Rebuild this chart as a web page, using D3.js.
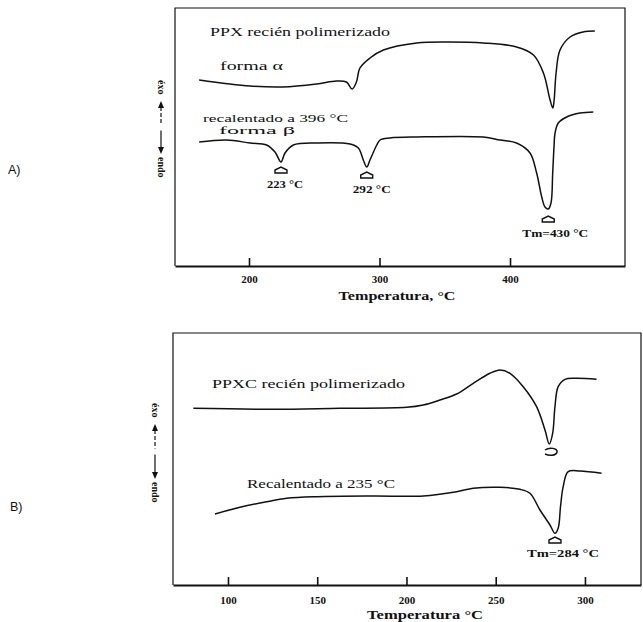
<!DOCTYPE html>
<html><head><meta charset="utf-8">
<script src="https://cdn.jsdelivr.net/npm/d3@7"></script>
<style>
html,body{margin:0;padding:0;background:#fff;}
svg{display:block;}
text{fill:#111;}
</style></head>
<body>
<script>
// ---------- DATA (temperature °C, DSC signal in arbitrary units; up = exo) ----------
const topTicks = [200, 300, 400];
const botTicks = [100, 150, 200, 250, 300];

const ppxAlphaT = [161.8,200.8,226,251.7,267,274.7,279,282.3,285,292.7,303,328.5,354,379.6,405,418,425.6,430.7,432.8,433.8,435.3,438.3,446,456,465];
const ppxAlphaV = [186,180,179,182,185,184,177,184,198,208,216,223,224,223,219,211,193,166,158,166,193,216,229,234,235];

const ppxBetaT = [161.8,182.8,200.8,213.5,219.9,224.5,227.6,234,251.9,277.4,283.8,287.6,290.2,292.7,297.9,300.4,308,328.5,379.6,392.3,405,415.3,420.4,424.3,426.8,429.3,431.4,432.7,433.7,434.5,437,443.4,453.6,463.8];
const ppxBetaV = [124,126,123,121,114,104,113,121,123,122,118,106,99,106,121,126,128,129,129,126,123,113,93,69,59,57,63,93,119,133,143,149,153,154];

const ppxcT = [80.6,125.4,162.7,200.1,209.4,218.8,228.1,237.4,246.8,252.4,258,265.4,272.9,277.6,280,281.9,283.2,285,288.8,295.3,306.5];
const ppxcV = [176.7,175.7,176.7,177.7,180,185,191,201.7,211.7,215,211.7,198.3,178.3,155,141,151.7,178.3,198.3,205.7,206.7,205.7];

const reheatT = [92.7,106.7,121.7,132.9,149.7,181.4,209.4,228.1,237.4,252.4,263.6,269.2,274.8,280.4,283.2,285,286.3,287.8,290.6,297.2,309.3];
const reheatV = [71,77.7,83.3,86.7,88.3,89,89,93.3,96.7,97.7,95.7,91.7,75,60,51.7,56.7,78.3,98.3,113.3,114,111.7];

// peak markers: [temperature, signal, label]
const topPeaks = [[224.5, 96, "223 °C"], [290.2, 91, "292 °C"], [429.3, 47, "Tm=430 °C"]];
const botPeaks = [[283.2, 45, "Tm=284 °C"]];
const botOpenMark = [[281, 133]];

const W = 643, H = 622;
const svg = d3.select("body").append("svg").attr("width", W).attr("height", H);
svg.append("rect").attr("width", W).attr("height", H).attr("fill", "#fff");

const serif = "'Liberation Serif','Times New Roman',serif";
const sans = "'Liberation Sans',Arial,sans-serif";

function txt(x, y, s, len, size, opts = {}) {
  const t = svg.append("text").attr("x", x).attr("y", y).text(s)
    .attr("font-family", opts.family || serif).attr("font-size", size)
    .attr("font-weight", opts.weight || "normal");
  if (len) t.attr("textLength", len).attr("lengthAdjust", "spacingAndGlyphs");
  if (opts.anchor) t.attr("text-anchor", opts.anchor);
  return t;
}

function marker(x, y) {
  const p = d3.path();
  p.moveTo(x - 6, y + 3); p.lineTo(x - 6, y); p.lineTo(x, y - 3); p.lineTo(x + 6, y); p.lineTo(x + 6, y + 3); p.closePath();
  svg.append("path").attr("d", p.toString()).attr("fill", "none").attr("stroke", "#111").attr("stroke-width", 1.4);
}

function ylabel(cx, y0, y1) {
  const g = svg.append("g");
  g.append("text").attr("transform", `translate(${cx - 3.5},${y0}) rotate(90)`).text("éxo")
    .attr("font-family", serif).attr("font-size", 10).attr("font-weight", "bold");
  const ya = y0 + 21, yb = y1 - 26;
  const mid = (ya + yb) / 2;
  g.append("path").attr("d", `M${cx},${ya} l-3,7 h6 z`).attr("fill", "#111");
  g.append("line").attr("x1", cx).attr("x2", cx).attr("y1", ya + 6).attr("y2", mid - 3)
    .attr("stroke", "#111").attr("stroke-width", 1.2).attr("stroke-dasharray", "4,2");
  g.append("line").attr("x1", cx).attr("x2", cx).attr("y1", mid + 3).attr("y2", yb - 6)
    .attr("stroke", "#111").attr("stroke-width", 1.2);
  g.append("path").attr("d", `M${cx},${yb} l-3,-7 h6 z`).attr("fill", "#111");
  g.append("text").attr("transform", `translate(${cx - 3.5},${yb + 3}) rotate(90)`).text("endo")
    .attr("font-family", serif).attr("font-size", 10).attr("font-weight", "bold");
}

function panel(cfg) {
  const x = d3.scaleLinear().domain(cfg.xdom).range([cfg.left, cfg.right]);
  const y = d3.scaleLinear().domain([0, cfg.bottom - cfg.top]).range([cfg.bottom, cfg.top]);
  svg.append("path").attr("d", `M${cfg.left},${cfg.bottom} V${cfg.top} H${cfg.right} V${cfg.bottom}`)
    .attr("fill", "none").attr("stroke", "#111").attr("stroke-width", 1.2);
  const ax = d3.axisBottom(x).tickValues(cfg.ticks).tickSizeInner(-cfg.tickLen).tickSizeOuter(0).tickPadding(cfg.pad);
  const g = svg.append("g").attr("transform", `translate(0,${cfg.bottom})`).call(ax);
  g.select(".domain").attr("stroke", "#111").attr("stroke-width", 2.2);
  g.selectAll(".tick line").attr("stroke", "#111").attr("stroke-width", 1.6);
  g.selectAll(".tick text").attr("font-family", serif).attr("font-size", 11).attr("font-weight", "bold").attr("fill", "#111");
  const line = d3.line().x(d => x(d[0])).y(d => y(d[1])).curve(d3.curveCatmullRom.alpha(0.5));
  cfg.series.forEach(([T, V]) => {
    svg.append("path").datum(T.map((t, i) => [t, V[i]])).attr("d", line)
      .attr("fill", "none").attr("stroke", "#111").attr("stroke-width", 1.5).attr("stroke-linejoin", "round");
  });
  return {x, y};
}

// ---------- Panel A ----------
const A = panel({xdom: [143.3, 488.1], left: 175, right: 625, top: 8, bottom: 266, ticks: topTicks, tickLen: 8, pad: 9,
  series: [[ppxAlphaT, ppxAlphaV], [ppxBetaT, ppxBetaV]]});
txt(210, 36, "PPX recién polimerizado", 180, 12);
txt(220, 70, "forma  α", 63, 12);
txt(203, 122, "recalentado a 396 °C", 145, 11);
txt(219, 134, "forma  β", 76, 11);
const labOff = [[-14, 18], [-14, 18], [-26, 18]];
topPeaks.forEach((p, i) => {
  const px = A.x(p[0]), py = A.y(p[1]);
  marker(px, py);
  const w = i === 2 ? 66 : (i === 0 ? 36 : 38);
  txt(px + labOff[i][0], py + labOff[i][1], p[2], w, 11, {weight: "bold"});
});
txt(397, 300, "Temperatura, °C", 117, 12.5, {anchor: "middle", weight: "bold"});
ylabel(161, 80, 180);
txt(8, 174, "A)", null, 12.5, {family: sans});

// ---------- Panel B ----------
const B = panel({xdom: [69.2, 331.4], left: 173, right: 641, top: 333, bottom: 585, ticks: botTicks, tickLen: 8, pad: 11,
  series: [[ppxcT, ppxcV], [reheatT, reheatV]]});
txt(212, 388, "PPXC recién polimerizado", 193, 12);
txt(247, 488, "Recalentado a 235 °C", 148, 12);
botPeaks.forEach(p => {
  const px = B.x(p[0]), py = B.y(p[1]);
  marker(px, py);
  txt(px - 28, py + 17, p[2], 72, 11, {weight: "bold"});
});
botOpenMark.forEach(p => {
  const px = B.x(p[0]), py = B.y(p[1]);
  svg.append("path").attr("d", `M${px - 6},${py - 2} C${px - 2},${py - 5} ${px + 7},${py - 4} ${px + 6},${py} C${px + 5},${py + 4} ${px - 2},${py + 4} ${px - 6},${py + 2}`)
    .attr("fill", "none").attr("stroke", "#111").attr("stroke-width", 1.5);
});
txt(425, 619, "Temperatura °C", 116, 12.5, {anchor: "middle", weight: "bold"});
ylabel(155, 403, 505);
txt(10, 511, "B)", null, 12.5, {family: sans});
</script>
</body></html>
